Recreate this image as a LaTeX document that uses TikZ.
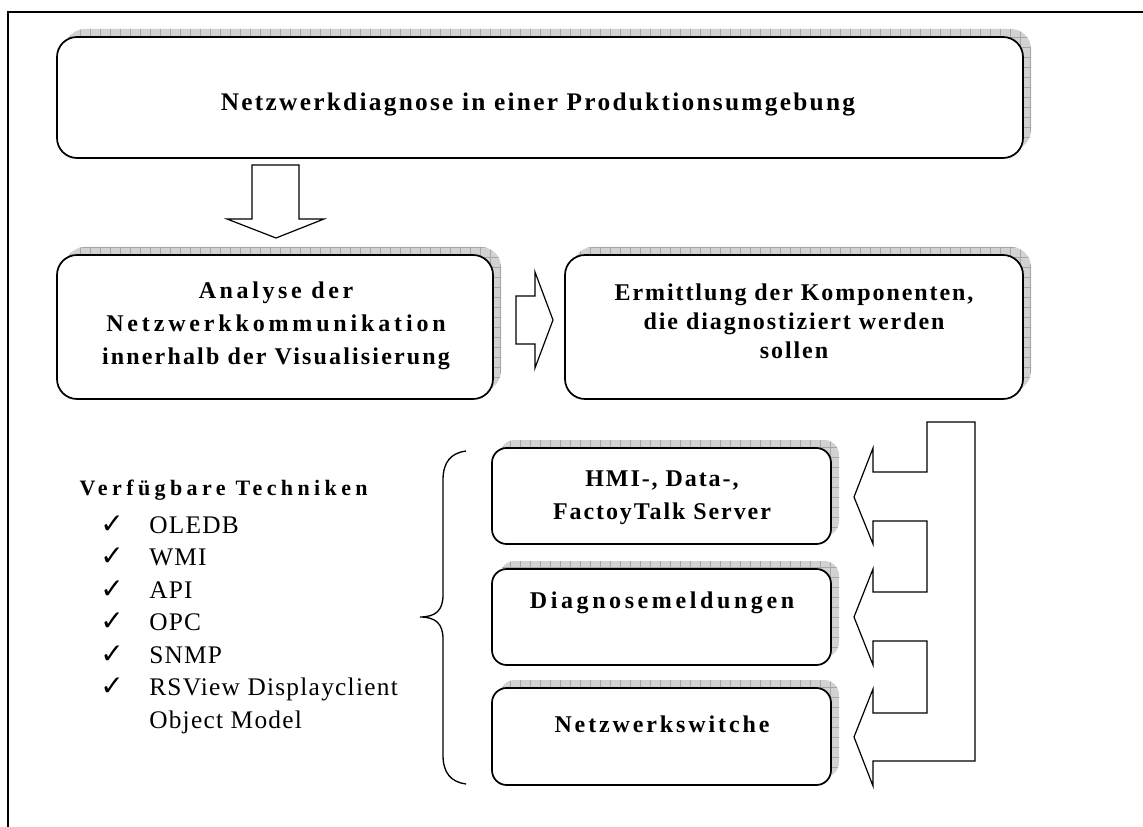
\documentclass[tikz,border=0pt]{standalone}
\usepackage{fontspec}
\setmainfont{Liberation Serif}
\newfontfamily\symfont{DejaVu Sans}
\newfontfamily\spfont[LetterSpace=8]{Liberation Serif}
\newfontfamily\spfontb[LetterSpace=5]{Liberation Serif}
\newfontfamily\titlefont[LetterSpace=9]{Liberation Serif}
\newfontfamily\hdrfont[LetterSpace=20]{Liberation Serif}
\newcommand\ls[2]{{\addfontfeature{LetterSpace=#1}#2}}
\usetikzlibrary{shadows,patterns.meta}
\begin{document}
\begin{tikzpicture}[x=0.75pt,y=-0.75pt,
  shadowstyle/.style={
    general shadow={fill=gray!35, shadow xshift=6pt, shadow yshift=6pt},
    general shadow={pattern={Hatch[angle=0,distance=7.5pt,line width=0.35pt]}, pattern color=gray!70, shadow xshift=6pt, shadow yshift=6pt}},
  bigbox/.style={draw=black, line width=1.3pt, fill=white, rounded corners=15pt, inner sep=0pt, outer sep=0pt, shadowstyle},
  smallbox/.style={draw=black, line width=1.3pt, fill=white, rounded corners=11pt, inner sep=0pt, outer sep=0pt, shadowstyle},
  boxtext/.style={align=center, inner sep=0pt, font=\spfont\bfseries\fontsize{18pt}{24.75pt}\selectfont},
  blockarrow/.style={draw=black, line width=0.9pt, fill=white, line join=miter},
  itemtext/.style={anchor=base west, inner sep=0pt, font=\spfontb\fontsize{19pt}{24.4pt}\selectfont},
  checkmark/.style={anchor=base west, inner sep=0pt, font=\symfont\fontsize{21pt}{23pt}\selectfont}
]
\useasboundingbox (0,0) rectangle (1143,827);
% outer frame
\draw[line width=1pt] (1143,12) -- (8,12) -- (8,827);

% boxes
\node[bigbox, minimum width={966*0.75pt}, minimum height={121*0.75pt}] (b1) at (540,97.5) {};
\node[boxtext, font=\titlefont\bfseries\fontsize{19pt}{24pt}\selectfont] (t1) at (538,105) {Netzwerkdiagnose in einer Produktionsumgebung};

\node[bigbox, minimum width={436*0.75pt}, minimum height={144*0.75pt}] (b2) at (275,327) {};
\node[boxtext] (t2) at (276,326) {\ls{15}{Analyse der}\\\ls{16}{Netzwerkkommunikation}\\\ls{9}{innerhalb der Visualisierung}};

\node[bigbox, minimum width={458*0.75pt}, minimum height={144*0.75pt}] (b3) at (794,327) {};
\node[boxtext, font=\spfont\bfseries\fontsize{18pt}{21.75pt}\selectfont] (t3) at (794,321) {Ermittlung der Komponenten,\\die diagnostiziert werden\\sollen};

\node[smallbox, minimum width={339*0.75pt}, minimum height={96*0.75pt}] (b4) at (661.5,496) {};
\node[boxtext] (t4) at (662,498) {HMI-, Data-,\\FactoyTalk Server};

\node[smallbox, minimum width={339*0.75pt}, minimum height={96*0.75pt}] (b5) at (661.5,617) {};
\node[boxtext] (t5) at (662,603) {\ls{15}{Diagnosemeldungen}};

\node[smallbox, minimum width={339*0.75pt}, minimum height={97*0.75pt}] (b6) at (661.5,736.5) {};
\node[boxtext] (t6) at (662,724) {\ls{12}{Netzwerkswitche}};

% block arrows
\draw[blockarrow] (252,165) -- (299,165) -- (299,219) -- (324,219) -- (276,238) -- (227,219) -- (252,219) -- cycle;
\draw[blockarrow] (516,296) -- (535,296) -- (535,272) -- (553,320) -- (535,368) -- (535,344) -- (516,344) -- cycle;
\draw[blockarrow] (927,422) -- (975,422) -- (975,761) -- (873,761) -- (873,786) -- (854,737) -- (873,689) -- (873,713) -- (927,713) -- (927,641) -- (873,641) -- (873,665) -- (854,617) -- (873,569) -- (873,592) -- (927,592) -- (927,521) -- (873,521) -- (873,544) -- (854,497) -- (873,448) -- (873,472) -- (927,472) -- cycle;

% brace
\draw[line width=1pt] (466,451) .. controls (451,453) and (443,462) .. (443,480) -- (443,595) .. controls (443,610) and (436,617) .. (420,617) .. controls (436,617) and (443,624) .. (443,639) -- (443,755) .. controls (443,773) and (451,782) .. (466,784);

% list
\node[anchor=base east, inner sep=0pt, font=\hdrfont\bfseries\fontsize{16.5pt}{19pt}\selectfont] (hdr) at (368,495) {Verfügbare Techniken};
\node[checkmark] (c1) at (100,533) {✓};
\node[itemtext] (i1) at (149,533) {OLEDB};
\node[checkmark] (c2) at (100,565.5) {✓};
\node[itemtext] (i2) at (149,565.5) {WMI};
\node[checkmark] (c3) at (100,598) {✓};
\node[itemtext] (i3) at (149,598) {API};
\node[checkmark] (c4) at (100,630.5) {✓};
\node[itemtext] (i4) at (149,630.5) {OPC};
\node[checkmark] (c5) at (100,663) {✓};
\node[itemtext] (i5) at (149,663) {SNMP};
\node[checkmark] (c6) at (100,695.5) {✓};
\node[itemtext] (i6) at (149,695.5) {RSView Displayclient};
\node[itemtext] (i7) at (149,728) {Object Model};
\end{tikzpicture}
\end{document}
